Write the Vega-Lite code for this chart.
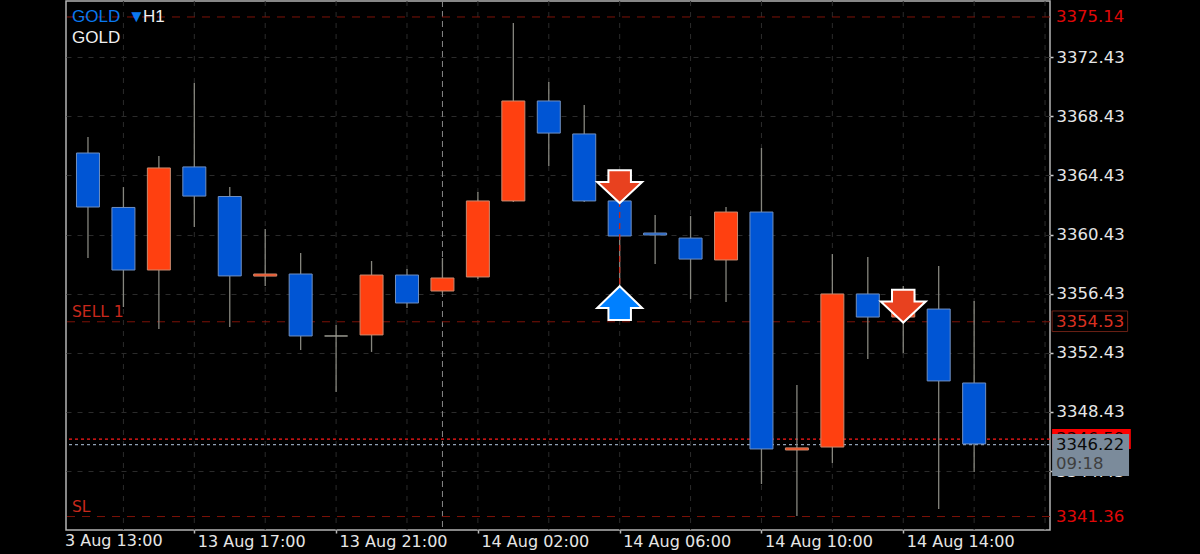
{
"$schema":"https://vega.github.io/schema/vega-lite/v6.json",
"width":984,"height":529,
"autosize":{"type":"none"},
"padding":{"left":66,"top":1,"right":150,"bottom":24},
"background":"#000000",
"config":{"view":{"stroke":"#b4b4b4","strokeWidth":1.5,"fill":"#000000"},"font":"DejaVu Sans"},
"datasets":{
"candles":[
{"i":0,"open":3365.94,"high":3367.02,"low":3358.84,"close":3362.29,"side":"down"},
{"i":1,"open":3362.26,"high":3363.64,"low":3355.53,"close":3358.03,"side":"down"},
{"i":2,"open":3358.03,"high":3365.74,"low":3354.04,"close":3364.93,"side":"up"},
{"i":3,"open":3365.0,"high":3370.67,"low":3360.94,"close":3363.03,"side":"down"},
{"i":4,"open":3363.0,"high":3363.64,"low":3354.18,"close":3357.63,"side":"down"},
{"i":5,"open":3357.62,"high":3360.8,"low":3356.95,"close":3357.76,"side":"up"},
{"i":6,"open":3357.76,"high":3359.18,"low":3352.62,"close":3353.57,"side":"down"},
{"i":7,"open":3353.57,"high":3354.31,"low":3349.78,"close":3353.57,"side":"flat"},
{"i":8,"open":3353.64,"high":3358.64,"low":3352.49,"close":3357.69,"side":"up"},
{"i":9,"open":3357.69,"high":3358.1,"low":3355.46,"close":3355.8,"side":"down"},
{"i":10,"open":3356.61,"high":3358.84,"low":3356.48,"close":3357.49,"side":"up"},
{"i":11,"open":3357.56,"high":3363.3,"low":3357.42,"close":3362.7,"side":"up"},
{"i":12,"open":3362.7,"high":3374.73,"low":3362.63,"close":3369.46,"side":"up"},
{"i":13,"open":3369.46,"high":3370.74,"low":3365.06,"close":3367.29,"side":"down"},
{"i":14,"open":3367.23,"high":3369.19,"low":3362.63,"close":3362.7,"side":"down"},
{"i":15,"open":3362.7,"high":3362.75,"low":3356.95,"close":3360.33,"side":"down"},
{"i":16,"open":3360.53,"high":3361.75,"low":3358.44,"close":3360.4,"side":"down"},
{"i":17,"open":3360.19,"high":3361.68,"low":3356.07,"close":3358.77,"side":"down"},
{"i":18,"open":3358.71,"high":3362.29,"low":3355.87,"close":3361.95,"side":"up"},
{"i":19,"open":3361.95,"high":3366.28,"low":3343.56,"close":3345.93,"side":"down"},
{"i":20,"open":3345.86,"high":3350.26,"low":3341.4,"close":3346.0,"side":"up"},
{"i":21,"open":3346.06,"high":3359.11,"low":3344.98,"close":3356.41,"side":"up"},
{"i":22,"open":3356.41,"high":3358.91,"low":3352.01,"close":3354.85,"side":"down"},
{"i":23,"open":3354.85,"high":3356.95,"low":3352.42,"close":3356.41,"side":"up"},
{"i":24,"open":3355.39,"high":3358.3,"low":3341.87,"close":3350.53,"side":"down"},
{"i":25,"open":3350.39,"high":3355.94,"low":3344.37,"close":3346.27,"side":"down"}
],
"gridX":[{"i":1},{"i":3},{"i":5},{"i":7},{"i":9},{"i":11},{"i":13},{"i":15},{"i":17},{"i":19},{"i":21},{"i":23},{"i":25},{"i":27}],
"levels":[{"price":3375.14,"name":"TP"},{"price":3354.53,"name":"SELL 1"},{"price":3341.36,"name":"SL"}],
"tags":[
{"i":27.31,"price":3375.14,"label":"3375.14","kind":"level"},
{"i":27.31,"price":3354.53,"label":"3354.53","kind":"open"},
{"i":27.31,"price":3341.36,"label":"3341.36","kind":"level"},
{"i":27.31,"price":3346.22,"label":"3346.22","kind":"bid"},
{"i":27.31,"price":3344.9,"label":"09:18","kind":"timer"}
],
"notes":[
{"i":-0.45,"price":3375.14,"label":"GOLD","kind":"symbol"},
{"i":1.13,"price":3375.14,"label":"▼","kind":"symbolMark"},
{"i":1.55,"price":3375.14,"label":"H1","kind":"plain"},
{"i":-0.45,"price":3373.72,"label":"GOLD","kind":"plain"}
],
"orders":[
{"i":-0.45,"price":3355.2,"label":"SELL 1"},
{"i":-0.45,"price":3342.01,"label":"SL"}
]
},
"data":{"name":"candles"},
"encoding":{
"x":{"field":"i","type":"quantitative","title":null,
"scale":{"domain":[-0.62,27.14],"nice":false,"zero":false,"padding":0},
"axis":{"values":[3,7,11,15,19,23],"grid":false,"domain":false,
"tickSize":3,"tickWidth":1.5,"tickColor":"#bbbbbb",
"labelAlign":"left","labelOffset":3,"labelPadding":0,"labelBaseline":"top","labelFontSize":16,"labelColor":"#e6e6e6","labelFont":"DejaVu Sans",
"labelBound":false,"labelFlush":false,"labelOverlap":false,
"labelExpr":"['13 Aug 17:00','13 Aug 21:00','14 Aug 02:00','14 Aug 06:00','14 Aug 10:00','14 Aug 14:00'][(datum.value-3)/4]"}}
},
"layer":[
{"data":{"name":"gridX"},"mark":{"type":"rule","color":"#2b2b2b","strokeWidth":1,"strokeDash":[5,6]},
 "encoding":{"x":{"field":"i","type":"quantitative"}}},
{"data":{"values":[{"i":10}]},"mark":{"type":"rule","color":"#8a8a8a","strokeWidth":1,"strokeDash":[6,4]},
 "encoding":{"x":{"field":"i","type":"quantitative"}}},
{"data":{"name":"levels"},"mark":{"type":"rule","color":"#7d1208","strokeWidth":1,"strokeDash":[8,7]},
 "encoding":{"x":{},"y":{"field":"price","type":"quantitative","title":null,
 "scale":{"domain":[3340.45,3376.22],"nice":false,"zero":false,"padding":0},
 "axis":{"orient":"right","values":[3344.43,3348.43,3352.43,3356.43,3360.43,3364.43,3368.43,3372.43],"format":".2f",
 "grid":true,"gridColor":"#2b2b2b","gridDash":[5,6],"gridWidth":1,"domain":false,
 "tickSize":3,"tickColor":"#cccccc","tickWidth":1.5,"labelFontSize":16.5,"labelColor":"#e6e6e6","labelFont":"DejaVu Sans","labelPadding":3,"labelOverlap":false,"labelBound":false,"labelFlush":false}}}},
{"data":{"values":[{"price":3346.59}]},"mark":{"type":"rule","color":"#ff1a1a","strokeWidth":1.2,"strokeDash":[3,3]},
 "encoding":{"x":{},"y":{"field":"price","type":"quantitative"}}},
{"data":{"values":[{"price":3346.22}]},"mark":{"type":"rule","color":"#8fa0b4","strokeWidth":1.2,"strokeDash":[3,3]},
 "encoding":{"x":{},"y":{"field":"price","type":"quantitative"}}},
{"mark":{"type":"rule","color":"#86867e","strokeWidth":1.3},
 "encoding":{"y":{"field":"low","type":"quantitative"},"y2":{"field":"high"}}},
{"mark":{"type":"bar","size":23,"strokeWidth":1},
 "encoding":{"y":{"field":"open","type":"quantitative"},"y2":{"field":"close"},
 "fill":{"field":"side","type":"nominal","legend":null,"scale":{"domain":["up","down","flat"],"range":["#ff4010","#0055d4","#9a9a90"]}},
 "stroke":{"field":"side","type":"nominal","legend":null,"scale":{"domain":["up","down","flat"],"range":["#c98a70","#6f8fc0","#9a9a90"]}}}},
{"data":{"values":[{"i":15,"from":3362.7,"to":3356.95}]},"mark":{"type":"rule","color":"#c0281c","strokeWidth":1.3,"strokeDash":[6,5]},
 "encoding":{"y":{"field":"from","type":"quantitative"},"y2":{"field":"to"}}},
{"data":{"values":[{"i":15,"price":3363.67},{"i":23,"price":3355.59}]},
 "mark":{"type":"point","filled":true,"size":2025,"opacity":1,"fill":"#e8411f","stroke":"#ffffff","strokeWidth":2,
 "shape":"M-0.5,-0.73 L0.5,-0.73 L0.5,-0.2 L1,-0.2 L0,0.73 L-1,-0.2 L-0.5,-0.2 Z"},
 "encoding":{"y":{"field":"price","type":"quantitative"}}},
{"data":{"values":[{"i":15,"price":3355.79}]},
 "mark":{"type":"point","filled":true,"size":2025,"opacity":1,"fill":"#0080ff","stroke":"#ffffff","strokeWidth":2,
 "shape":"M0,-0.75 L1,0.22 L0.5,0.22 L0.5,0.75 L-0.5,0.75 L-0.5,0.22 L-1,0.22 Z"},
 "encoding":{"y":{"field":"price","type":"quantitative"}}},
{"data":{"values":[{"x0":27.2,"x1":29.42,"top":3347.28,"bottom":3345.93}]},
 "mark":{"type":"rect","fill":"#ff0000"},
 "encoding":{"x":{"field":"x0","type":"quantitative"},"x2":{"field":"x1"},"y":{"field":"top","type":"quantitative"},"y2":{"field":"bottom"}}},
{"data":{"values":[{"i":27.31,"price":3346.59,"label":"3346.59"}]},
 "mark":{"type":"text","align":"left","baseline":"middle","font":"DejaVu Sans","fontSize":16.5,"color":"#1a0000"},
 "encoding":{"y":{"field":"price","type":"quantitative"},"text":{"field":"label"}}},
{"data":{"values":[{"x0":27.2,"x1":29.37,"top":3346.94,"bottom":3344.1}]},
 "mark":{"type":"rect","fill":"#7b8b9b"},
 "encoding":{"x":{"field":"x0","type":"quantitative"},"x2":{"field":"x1"},"y":{"field":"top","type":"quantitative"},"y2":{"field":"bottom"}}},
{"data":{"values":[{"x0":27.2,"x1":29.33,"top":3355.26,"bottom":3353.87}]},
 "mark":{"type":"rect","fill":"#000000","stroke":"#6b2015","strokeWidth":1},
 "encoding":{"x":{"field":"x0","type":"quantitative"},"x2":{"field":"x1"},"y":{"field":"top","type":"quantitative"},"y2":{"field":"bottom"}}},
{"data":{"values":[{"i":-0.65,"price":3339.71,"label":"3 Aug 13:00"}]},
 "mark":{"type":"text","align":"left","baseline":"middle","font":"DejaVu Sans","fontSize":16,"color":"#e6e6e6"},
 "encoding":{"y":{"field":"price","type":"quantitative"},"text":{"field":"label"}}},
{"data":{"name":"tags"},
 "mark":{"type":"text","align":"left","baseline":"middle","font":"DejaVu Sans","fontSize":16.5},
 "encoding":{"y":{"field":"price","type":"quantitative"},"text":{"field":"label"},
 "color":{"field":"kind","type":"nominal","legend":null,"scale":{"domain":["level","open","bid","timer"],"range":["#e00808","#d83020","#0a0a0a","#3f3f3f"]}}}},
{"data":{"name":"notes"},
 "mark":{"type":"text","align":"left","baseline":"middle","font":"Liberation Sans","fontSize":17},
 "encoding":{"y":{"field":"price","type":"quantitative"},"text":{"field":"label"},
 "size":{"field":"kind","type":"nominal","legend":null,"scale":{"domain":["symbol","plain","symbolMark"],"range":[17,17,8]}},
 "color":{"field":"kind","type":"nominal","legend":null,"scale":{"domain":["symbol","plain","symbolMark"],"range":["#0a78f0","#f0f0f0","#0a78f0"]}}}},
{"data":{"name":"orders"},
 "mark":{"type":"text","align":"left","baseline":"middle","font":"DejaVu Sans","fontSize":15.5,"color":"#c8281c"},
 "encoding":{"y":{"field":"price","type":"quantitative"},"text":{"field":"label"}}}
],
"resolve":{"scale":{"fill":"independent","stroke":"independent","color":"independent","size":"independent"}}
}
